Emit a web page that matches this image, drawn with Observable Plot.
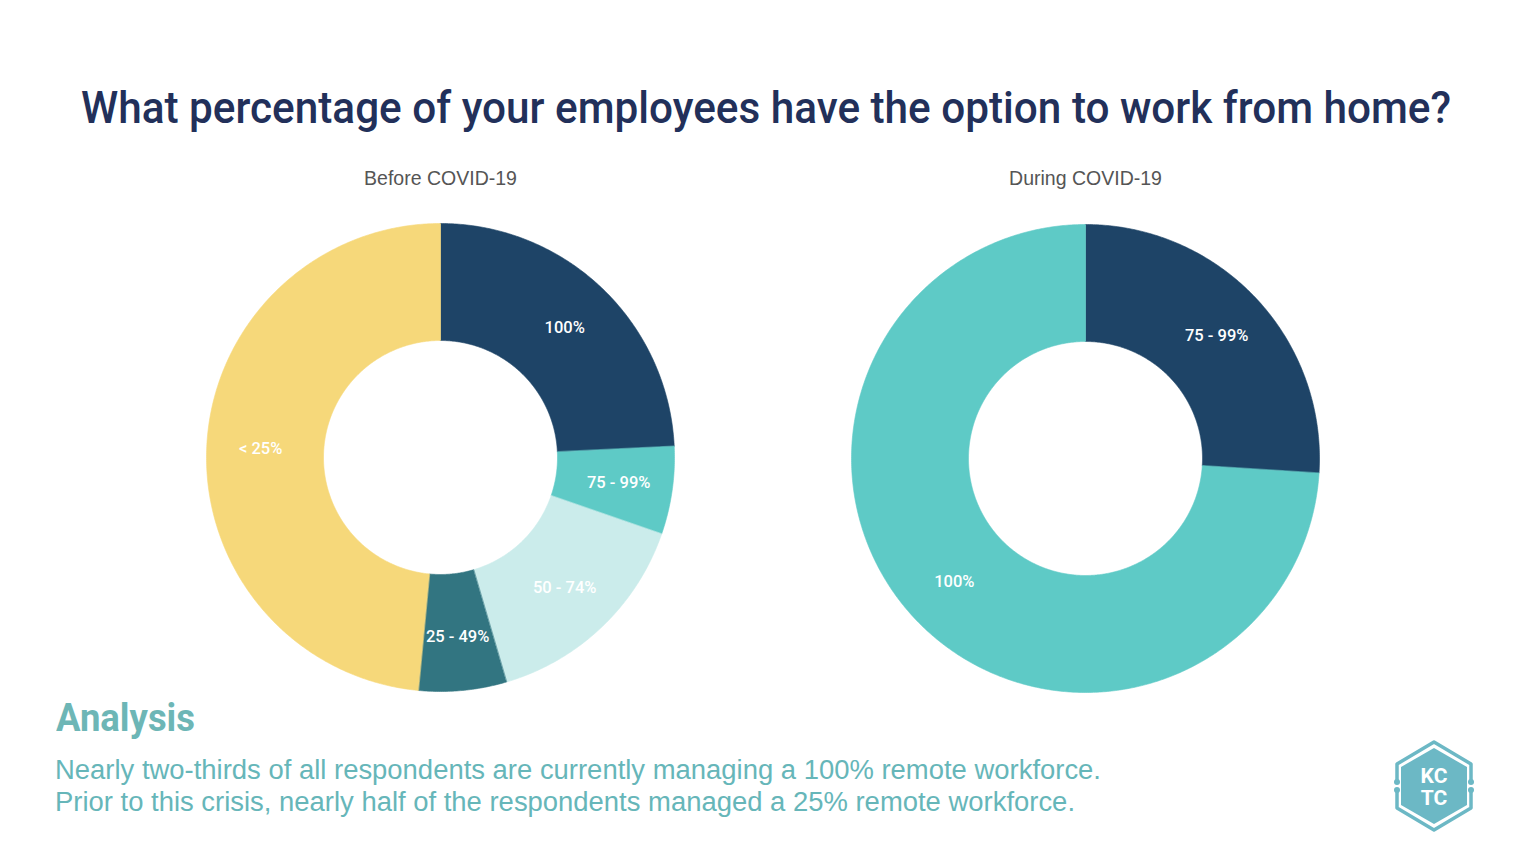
<!DOCTYPE html>
<html><head><meta charset="utf-8">
<script src="https://cdn.jsdelivr.net/npm/d3@7"></script>
<script src="https://cdn.jsdelivr.net/npm/@observablehq/plot@0.6"></script>
<style>
html,body{margin:0;padding:0;background:#fff;}
#page{position:relative;width:1536px;height:864px;overflow:hidden;background:#fff;}
#chart{position:absolute;left:0;top:0;}
.fit{position:absolute;white-space:nowrap;transform-origin:0 0;line-height:1;left:0;top:0;}
#title{font-family:Roboto,"Noto Sans",sans-serif;font-weight:500;font-size:44px;color:#22305a;}
#analysis{font-family:Roboto,"Noto Sans",sans-serif;font-weight:700;font-size:38px;color:#6db6b6;}
.body{font-family:"Liberation Sans",Arial,sans-serif;font-weight:400;font-size:27px;color:#66b6b9;}
#logo{position:absolute;left:1388px;top:738px;}
</style></head><body><div id="page">
<div id="chart"></div>
<div id="title" class="fit">What percentage of your employees have the option to work from home?<span class="bl"></span></div>
<div id="analysis" class="fit">Analysis<span class="bl"></span></div>
<div id="line1" class="fit body">Nearly two-thirds of all respondents are currently managing a 100% remote workforce.<span class="bl"></span></div>
<div id="line2" class="fit body">Prior to this crisis, nearly half of the respondents managed a 25% remote workforce.<span class="bl"></span></div>
<svg id="logo" width="92" height="96" viewBox="0 0 92 96">
  <polygon points="46,10 79,29 79,67 46,86 13,67 13,29" fill="#6cb8c5"/>
  <polyline points="9,42 9,26 46,4 83,26 83,42" fill="none" stroke="#6cb8c5" stroke-width="3.5" stroke-linejoin="round"/>
  <polyline points="9,54 9,70 46,92 83,70 83,54" fill="none" stroke="#6cb8c5" stroke-width="3.5" stroke-linejoin="round"/>
  <circle cx="9" cy="44" r="3" fill="#6cb8c5"/><circle cx="9" cy="52" r="3" fill="#6cb8c5"/>
  <circle cx="83" cy="44" r="3" fill="#6cb8c5"/><circle cx="83" cy="52" r="3" fill="#6cb8c5"/>
  <text x="46" y="45" text-anchor="middle" font-family="Roboto,sans-serif" font-weight="700" font-size="21" fill="#fff">KC</text>
  <text x="46" y="67" text-anchor="middle" font-family="Roboto,sans-serif" font-weight="700" font-size="21" fill="#fff">TC</text>
</svg>
</div>
<script>
// ---- data ----
const beforeCategories = ["100%", "75 - 99%", "50 - 74%", "25 - 49%", "< 25%"];
const beforeValues = [8, 2, 5, 2, 16];
const beforeColors = ["#1e4467", "#5ecac6", "#cbeceb", "#327581", "#f6d87a"];
const duringCategories = ["75 - 99%", "100%"];
const duringValues = [26, 74];
const duringColors = ["#1e4467", "#5ecac6"];
const chartTitles = ["Before COVID-19", "During COVID-19"];

// ---- layout ----
const W = 1536, H = 864;
const R = 234, r = 117, LR = 180;
const centers = [[440, 457], [1085, 458]];

function build(id, cats, vals, colors, [cx, cy]) {
  const pie = d3.pie().sort(null).value(d => d)(vals);
  const pts = [], labels = [];
  pie.forEach((p, i) => {
    const span = p.endAngle - p.startAngle;
    const n = Math.max(2, Math.ceil(span / (Math.PI / 360)));
    for (let k = 0; k <= n; k++) {
      const a = p.startAngle + span * k / n;
      pts.push({key: id + i, color: colors[i], x: cx + R * Math.sin(a), y: cy - R * Math.cos(a)});
    }
    for (let k = n; k >= 0; k--) {
      const a = p.startAngle + span * k / n;
      pts.push({key: id + i, color: colors[i], x: cx + r * Math.sin(a), y: cy - r * Math.cos(a)});
    }
    const m = (p.startAngle + p.endAngle) / 2;
    labels.push({label: cats[i], x: cx + LR * Math.sin(m), y: cy - LR * Math.cos(m)});
  });
  return {pts, labels};
}
const A = build("b", beforeCategories, beforeValues, beforeColors, centers[0]);
const B = build("d", duringCategories, duringValues, duringColors, centers[1]);
const heads = chartTitles.map((t, i) => ({t, x: centers[i][0], y: 178}));

const chart = Plot.plot({
  width: W, height: H, margin: 0,
  x: {domain: [0, W], range: [0, W], axis: null},
  y: {domain: [0, H], range: [0, H], axis: null},
  style: {background: "transparent"},
  marks: [
    Plot.line(A.pts.concat(B.pts), {x: "x", y: "y", z: "key", fill: "color", stroke: "color", strokeWidth: 0.6, curve: "linear-closed"}),
    Plot.text(A.labels.concat(B.labels), {x: "x", y: "y", text: "label", fill: "white", fontSize: 16.5, fontWeight: 500, fontFamily: "Roboto, sans-serif"}),
    Plot.text(heads, {x: "x", y: "y", text: "t", fill: "#555", fontSize: 19.5, fontFamily: "'Liberation Sans', Arial, sans-serif"})
  ]
});
document.getElementById("chart").appendChild(chart);

// ---- fit HTML texts to their positions ----
function place(id, left, baseline, width) {
  const el = document.getElementById(id);
  el.style.left = left + "px";
  el.style.top = "0px";
  el.style.transform = "none";
  const bl = el.querySelector(".bl");
  bl.style.display = "inline-block"; bl.style.height = "0"; bl.style.width = "0";
  const pageTop = document.getElementById("page").getBoundingClientRect().top;
  const b = bl.getBoundingClientRect().top - pageTop;
  const w = el.getBoundingClientRect().width;
  el.style.top = (baseline - b) + "px";
  el.style.transform = `scaleX(${width / w})`;
}
function layoutTexts() {
  place("title", 81, 123, 1370);
  place("analysis", 56, 731, 139);
  place("line1", 55, 779, 1046);
  place("line2", 55, 811, 1020);
}
layoutTexts();
if (document.fonts && document.fonts.ready) document.fonts.ready.then(layoutTexts);
</script>
</body></html>
